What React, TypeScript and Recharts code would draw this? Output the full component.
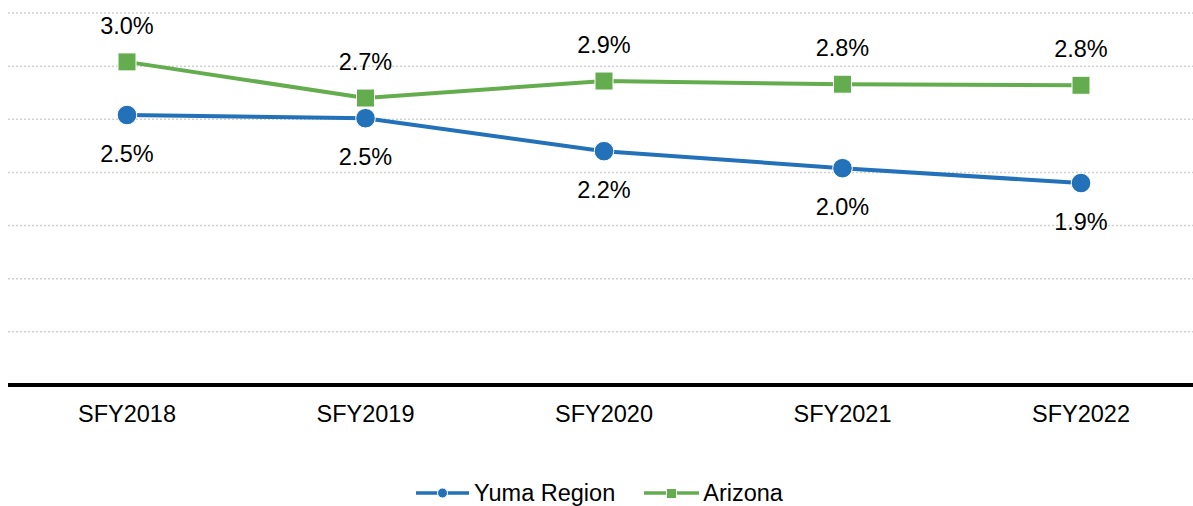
import React from 'react';
import { LineChart, Line, XAxis, YAxis, CartesianGrid, Legend } from 'recharts';

const categories = ['SFY2018', 'SFY2019', 'SFY2020', 'SFY2021', 'SFY2022'];
const yumaValues = [2.54, 2.51, 2.2, 2.04, 1.9];
const arizonaValues = [3.04, 2.7, 2.86, 2.83, 2.82];
const yTicks = [0, 0.5, 1, 1.5, 2, 2.5, 3, 3.5];
const seriesNames = { yuma: 'Yuma Region', arizona: 'Arizona' };

const BLUE = '#2271B9';
const GREEN = '#64AD4F';
const FONT = '"Liberation Sans", Arial, sans-serif';
const FS = 23.5;

const data = categories.map((c, i) => ({ name: c, yuma: yumaValues[i], arizona: arizonaValues[i] }));

const fmt = (v: number) => v.toFixed(1) + '%';

const XTick = (props: any) => {
  const { x, y, payload } = props;
  return (
    <text x={x} y={y + 28.5} textAnchor="middle" dominantBaseline="central" fontFamily={FONT} fontSize={FS} fill="#000">
      {payload.value}
    </text>
  );
};

const makeLabel = (dy: number) => (props: any) => {
  const { x, y, value, index } = props;
  return (
    <text key={'l' + index + dy} x={x} y={y + dy} textAnchor="middle" dominantBaseline="central" fontFamily={FONT} fontSize={FS} fill="#000">
      {fmt(Number(value))}
    </text>
  );
};

const SquareDot = (props: any) => {
  const { cx, cy, index } = props;
  if (cx == null || cy == null) return <g key={'s' + index} />;
  return <rect key={'s' + index} x={cx - 9} y={cy - 9} width={18} height={18} fill={GREEN} stroke="#fff" strokeWidth={1} />;
};

const CircleDot = (props: any) => {
  const { cx, cy, index } = props;
  if (cx == null || cy == null) return <g key={'c' + index} />;
  return <circle key={'c' + index} cx={cx} cy={cy} r={9.8} fill={BLUE} stroke="#fff" strokeWidth={1} />;
};

const LegendContent = () => (
  <div style={{ display: 'flex', justifyContent: 'center', alignItems: 'center', height: 26, fontFamily: FONT, fontSize: FS, color: '#000', transform: 'translateX(-1px)' }}>
    <svg width={53} height={26} style={{ display: 'block' }}>
      <line x1={0} y1={13} x2={53} y2={13} stroke={BLUE} strokeWidth={3.5} />
      <circle cx={26.5} cy={13} r={5} fill={BLUE} stroke="#fff" strokeWidth={1} />
    </svg>
    <span style={{ marginLeft: 5, lineHeight: '26px' }}>{seriesNames.yuma}</span>
    <svg width={55} height={26} style={{ display: 'block', marginLeft: 29 }}>
      <line x1={0} y1={13} x2={55} y2={13} stroke={GREEN} strokeWidth={3.5} />
      <rect x={22.5} y={8.5} width={10} height={10} fill={GREEN} stroke="#fff" strokeWidth={1} />
    </svg>
    <span style={{ marginLeft: 4, lineHeight: '26px' }}>{seriesNames.arizona}</span>
  </div>
);

export default function App() {
  return (
    <div style={{ position: 'absolute', left: 8, top: 8, width: 1185, height: 498, overflow: 'hidden', background: '#fff' }}>
      <LineChart width={1185} height={498} data={data} margin={{ top: 5, right: 0, bottom: 0, left: 0 }}>
        <CartesianGrid vertical={false} stroke="#D0D0D0" strokeWidth={1.5} strokeDasharray="2 2" />
        <XAxis
          dataKey="name"
          interval={0}
          padding={{ left: 119, right: 112 }}
          axisLine={{ stroke: '#000', strokeWidth: 4 }}
          tickLine={false}
          tickSize={0}
          tickMargin={0}
          height={95}
          tick={<XTick />}
        />
        <YAxis hide domain={[0, 3.5]} ticks={yTicks} />
        <Legend verticalAlign="bottom" content={<LegendContent />} />
        <Line
          type="linear"
          dataKey="yuma"
          name={seriesNames.yuma}
          stroke={BLUE}
          strokeWidth={4}
          dot={<CircleDot />}
          activeDot={false}
          label={makeLabel(39)}
          isAnimationActive={false}
        />
        <Line
          type="linear"
          dataKey="arizona"
          name={seriesNames.arizona}
          stroke={GREEN}
          strokeWidth={4}
          dot={<SquareDot />}
          activeDot={false}
          label={makeLabel(-36)}
          isAnimationActive={false}
        />
      </LineChart>
    </div>
  );
}
